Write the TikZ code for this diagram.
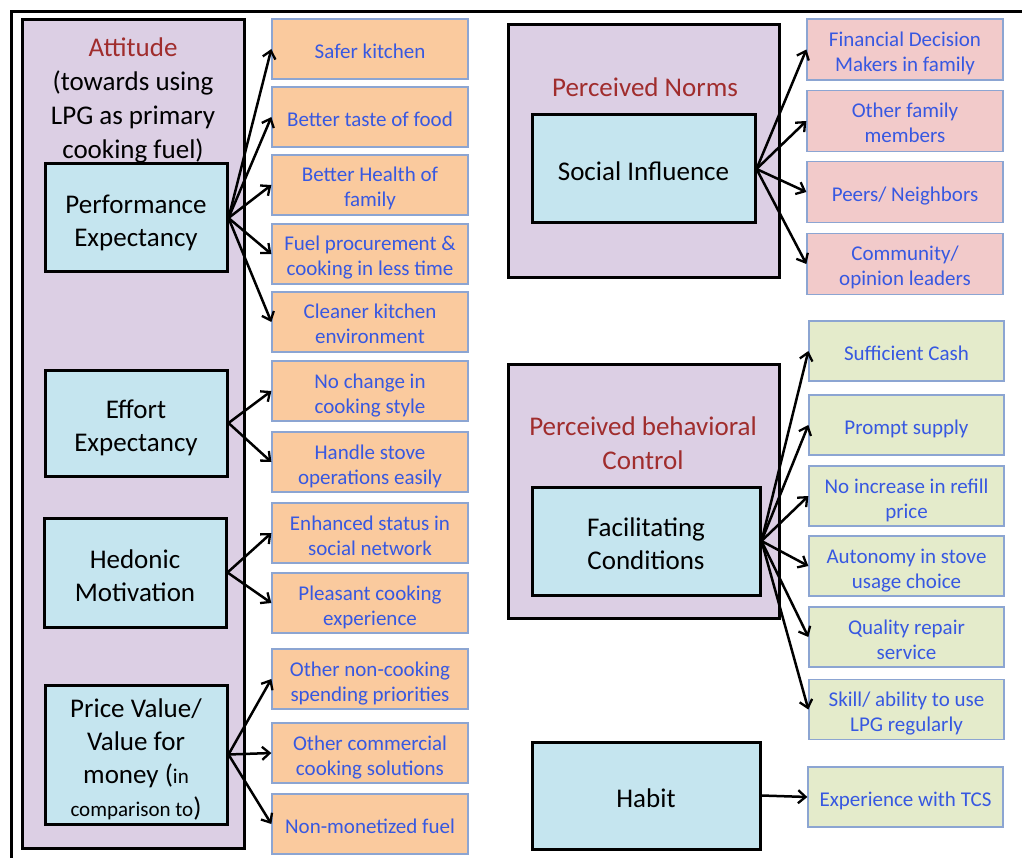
\documentclass[tikz,border=0pt]{standalone}
\usepackage{fontspec}
\setmainfont{Carlito}
\usetikzlibrary{arrows.meta}
\definecolor{lav}{RGB}{220,207,228}
\definecolor{lblue}{RGB}{197,229,239}
\definecolor{orng}{RGB}{250,202,158}
\definecolor{pnk}{RGB}{242,202,202}
\definecolor{grn}{RGB}{228,235,203}
\definecolor{dred}{RGB}{160,45,45}
\definecolor{btxt}{RGB}{55,88,225}
\definecolor{bbord}{RGB}{140,165,210}
\newcommand{\smst}{\rule[-5pt]{0pt}{29pt}}
\newcommand{\bgst}{\rule[-6pt]{0pt}{36pt}}
\tikzset{
  container/.style={draw=black, line width=3pt, fill=lav, inner sep=0pt},
  construct/.style={draw=black, line width=3pt, fill=lblue, inner sep=0pt, align=center,
     font=\fontsize{27}{33}\selectfont},
  item/.style={draw=bbord, line width=1.3pt, inner sep=0pt, align=center, text=btxt,
     font=\fontsize{21}{25}\selectfont},
  oitem/.style={item, fill=orng, minimum width=196pt, minimum height=60pt},
  pitem/.style={item, fill=pnk, minimum width=196pt, minimum height=61pt},
  gitem/.style={item, fill=grn, minimum width=195pt, minimum height=60pt},
  title/.style={align=center, font=\fontsize{27}{34}\selectfont, inner sep=0pt},
  arr/.style={line width=2.5pt, -{Straight Barb[length=7.5pt,width=13pt,line width=2.3pt]}},
}
\begin{document}
\lineskiplimit=-100pt
\lineskip=0pt
\begin{tikzpicture}[x=1pt,y=-1pt]
\useasboundingbox (0,0) rectangle (1022,858);
\fill[white] (0,0) rectangle (1022,858);
% outer frame
\coordinate (fr1) at (11,858);
\coordinate (fr2) at (11,12);
\coordinate (fr3) at (1022,12);
\draw[line width=3pt] (fr1) -- (fr2) -- (fr3);

% containers
\node[container, minimum width=222pt, minimum height=828pt] (att) at (133,434) {};
\node[container, minimum width=271pt, minimum height=253pt] (pn) at (643.5,151.5) {};
\node[container, minimum width=271pt, minimum height=254pt] (pbc) at (643.5,491) {};

% titles
\node[title] (attT) at (133,96) {\bgst\textcolor{dred}{Attitude}\\(towards using\\LPG as primary\\cooking fuel)\bgst};
\node[title, text=dred] (pnT) at (645,85) {\bgst Perceived Norms\bgst};
\node[title, text=dred] (pbcT) at (643,440) {\bgst Perceived behavioral\\Control\bgst};

% constructs
\node[construct, minimum width=182pt, minimum height=108pt] (pe) at (136,218) {\bgst Performance\\Expectancy\bgst};
\node[construct, minimum width=182pt, minimum height=106pt] (ee) at (136,423) {\bgst Effort\\Expectancy\bgst};
\node[construct, minimum width=182pt, minimum height=109pt] (hm) at (135,572.5) {\bgst Hedonic\\Motivation\bgst};
\node[construct, minimum width=182pt, minimum height=139pt] (pv) at (136,754.5) {\bgst Price Value/\\Value for\\money ({\fontsize{21}{25}\selectfont in}\\{\fontsize{21}{25}\selectfont comparison to})\bgst};
\node[construct, minimum width=223pt, minimum height=108pt] (si) at (643.5,169) {\bgst Social Influence\bgst};
\node[construct, minimum width=228pt, minimum height=108pt] (fc) at (646,541) {\bgst Facilitating\\Conditions\bgst};
\node[construct, minimum width=228pt, minimum height=107pt] (hab) at (646,795.5) {\bgst Habit\bgst};

% orange items
\node[oitem] (o1) at (370,49) {\smst Safer kitchen\smst};
\node[oitem] (o2) at (370,117) {\smst Better taste of food\smst};
\node[oitem] (o3) at (370,185) {\smst Better Health of\\family\smst};
\node[oitem] (o4) at (370,254) {\smst Fuel procurement \&\\cooking in less time\smst};
\node[oitem] (o5) at (370,322) {\smst Cleaner kitchen\\environment\smst};
\node[oitem] (o6) at (370,391) {\smst No change in\\cooking style\smst};
\node[oitem] (o7) at (370,462) {\smst Handle stove\\operations easily\smst};
\node[oitem] (o8) at (370,533) {\smst Enhanced status in\\social network\smst};
\node[oitem] (o9) at (370,603) {\smst Pleasant cooking\\experience\smst};
\node[oitem] (o10) at (370,679) {\smst Other non-cooking\\spending priorities\smst};
\node[oitem] (o11) at (370,753) {\smst Other commercial\\cooking solutions\smst};
\node[oitem] (o12) at (370,824) {\smst Non-monetized fuel\smst};

% pink items
\node[pitem] (p1) at (905,49.5) {\smst Financial Decision\\Makers in family\smst};
\node[pitem] (p2) at (905,121) {\smst Other family\\members\smst};
\node[pitem] (p3) at (905,192) {\smst Peers/ Neighbors\smst};
\node[pitem] (p4) at (905,264) {\smst Community/\\opinion leaders\smst};

% green items
\node[gitem] (g1) at (906.5,351) {\smst Sufficient Cash\smst};
\node[gitem] (g2) at (906.5,425) {\smst Prompt supply\smst};
\node[gitem] (g3) at (906.5,496) {\smst No increase in refill\\price\smst};
\node[gitem] (g4) at (906.5,566) {\smst Autonomy in stove\\usage choice\smst};
\node[gitem] (g5) at (906.5,637) {\smst Quality repair\\service\smst};
\node[gitem] (g6) at (906.5,709.5) {\smst Skill/ ability to use\\LPG regularly\smst};
\node[gitem] (g7) at (905.5,797) {\smst Experience with TCS\smst};

% arrows
\foreach \t in {o1,o2,o3,o4,o5} \draw[arr] (pe.east) -- (\t.west);
\foreach \t in {o6,o7} \draw[arr] (ee.east) -- (\t.west);
\foreach \t in {o8,o9} \draw[arr] (hm.east) -- (\t.west);
\foreach \t in {o10,o11,o12} \draw[arr] (pv.east) -- (\t.west);
\foreach \t in {p1,p2,p3,p4} \draw[arr] (si.east) -- (\t.west);
\foreach \t in {g1,g2,g3,g4,g5,g6} \draw[arr] (fc.east) -- (\t.west);
\draw[arr] (hab.east) -- (g7.west);
\end{tikzpicture}
\end{document}
